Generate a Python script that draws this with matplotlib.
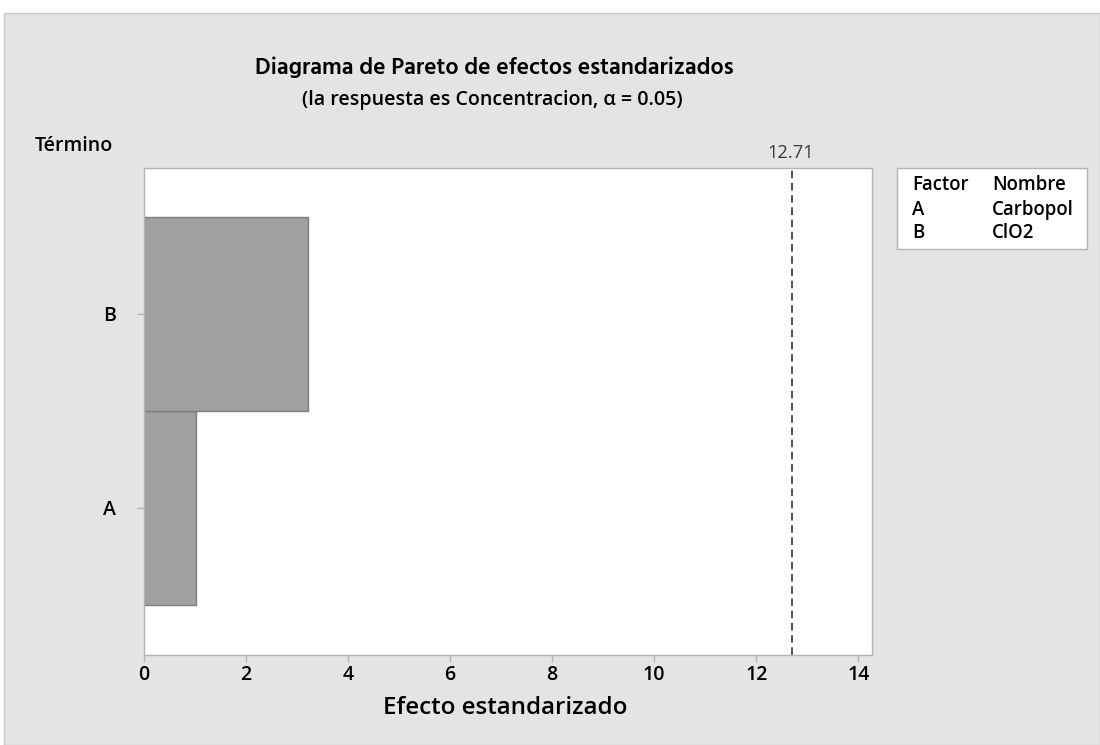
import matplotlib
matplotlib.use("Agg")
import matplotlib.pyplot as plt
from matplotlib.patches import Rectangle

plt.rcParams['font.family'] = ['Open Sans', 'DejaVu Sans']
plt.rcParams['font.weight'] = 'semibold'

terms = ["A", "B"]
effects = [1.01, 3.22]
critical = 12.71
xticks = [0, 2, 4, 6, 8, 10, 12, 14]
factors = ["A", "B"]
names = ["Carbopol", "ClO2"]

W, H = 1100, 745
fig = plt.figure(figsize=(W / 100, H / 100), dpi=100)
fig.patch.set_facecolor("white")
renderer = fig.canvas.get_renderer()


def fx(x):
    return x / W


def fy(y):
    return 1 - y / H


def fit_text(x, y, s, width_px, ha="left", weight="semibold", color="black", family=None):
    kw = {}
    if family is not None:
        kw["family"] = family
    t = fig.text(fx(x), fy(y), s, ha=ha, va="baseline", fontsize=10, fontweight=weight, color=color, **kw)
    w = t.get_window_extent(renderer=renderer).width
    t.set_fontsize(10 * width_px / w)
    return t


panel = Rectangle((fx(4), 0), 1 - fx(4), fy(13), transform=fig.transFigure,
                  facecolor="#e4e4e4", edgecolor="#c8c8c8", linewidth=1, zorder=-10)
fig.patches.append(panel)

ax = fig.add_axes([fx(144), fy(655), fx(872) - fx(144), fy(168) - fy(655)])
ax.set_facecolor("white")
ypos = list(range(len(terms)))
ax.barh(ypos, effects, height=1.0, color="#a0a0a0", edgecolor="#7f7f7f", linewidth=1)
ax.axvline(critical, color="#222222", linestyle=(0, (5, 3)), linewidth=1.1)
ax.set_xlim(0, 14.27)
ax.set_ylim(-0.76, 1.75)
ax.set_xticks(xticks)
ax.set_xticklabels([str(v) for v in xticks], fontweight="semibold")
ax.set_yticks(ypos)
ax.set_yticklabels(terms, fontweight="semibold")
for s in ax.spines.values():
    s.set_color("#b4b4b4")
    s.set_linewidth(1)
ax.tick_params(axis="both", colors="#b4b4b4", labelcolor="black", labelsize=14, length=5, width=1)
ax.tick_params(axis="x", pad=2.5)
ax.tick_params(axis="y", pad=15.5)

fit_text(790.5, 158, "12.71", 47, ha="center", weight="normal", color="#3a3a3a")

fit_text(494, 74, "Diagrama de Pareto de efectos estandarizados", 478, ha="center",
         family=["Hind", "Lato", "Open Sans", "DejaVu Sans"])
fit_text(492.5, 105, "(la respuesta es Concentracion, \u03b1 = 0.05)", 381, ha="center")
fit_text(35, 151, "Término", 78)
fit_text(505.5, 714, "Efecto estandarizado", 245, ha="center")

leg = Rectangle((fx(897), fy(249)), fx(1087) - fx(897), fy(168) - fy(249), transform=fig.transFigure,
                facecolor="white", edgecolor="#b4b4b4", linewidth=1)
fig.patches.append(leg)
ref = fit_text(912, 190.5, "Factor", 57)
fs = ref.get_fontsize()
fig.text(fx(992), fy(190.5), "Nombre", ha="left", va="baseline", fontsize=fs, fontweight="semibold")
rows_y = [215, 238.5]
for i, (f, n) in enumerate(zip(factors, names)):
    fig.text(fx(912), fy(rows_y[i]), f, ha="left", va="baseline", fontsize=fs, fontweight="semibold")
    fig.text(fx(992), fy(rows_y[i]), n, ha="left", va="baseline", fontsize=fs, fontweight="semibold")

fig.savefig("out.png", dpi=100, facecolor=fig.get_facecolor())
